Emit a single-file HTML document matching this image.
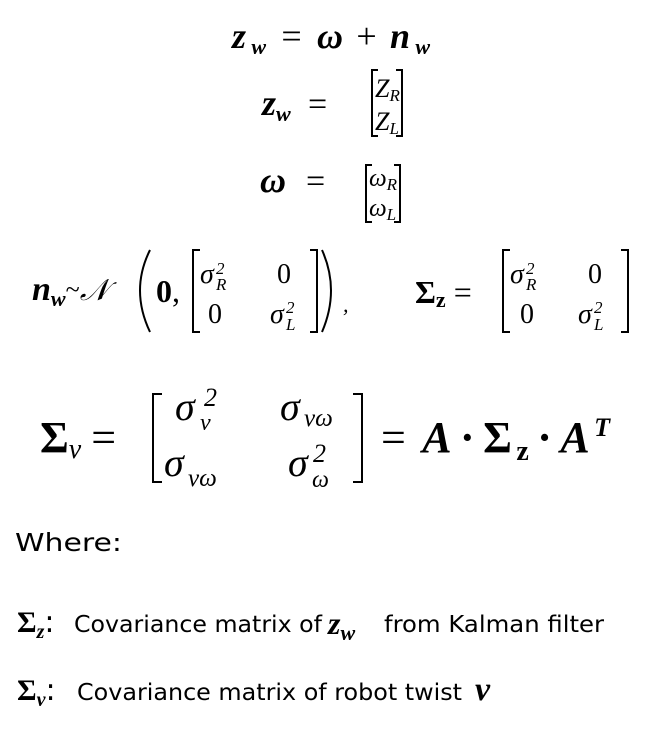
<!DOCTYPE html>
<html><head><meta charset="utf-8"><style>
html,body{margin:0;padding:0;background:#fff;width:660px;height:740px;overflow:hidden}
svg{display:block}
.m{font-family:"Liberation Serif",serif;font-style:italic;fill:#000}
.b{font-weight:bold}
.u{font-style:normal}
.s{font-family:"DejaVu Sans","Liberation Sans",sans-serif;fill:#000}
path{fill:none;stroke:#000;stroke-width:2}
</style></head><body>
<svg width="660" height="740" viewBox="0 0 660 740">
<!-- line 1 -->
<g>
<text class="m b" x="232" y="48" font-size="36" textLength="198" lengthAdjust="spacing">z<tspan font-size="22" dy="6">w</tspan><tspan class="u" font-weight="normal" dy="-6" dx="10">=</tspan><tspan dx="10">ω</tspan><tspan class="u" font-weight="normal" dx="8">+</tspan><tspan dx="8">n</tspan><tspan font-size="22" dy="6">w</tspan></text>
</g>
<!-- line 2 -->
<g>
<text class="m b" x="262" y="115" font-size="36">z<tspan font-size="22" dy="6">w</tspan></text>
<text class="m u" x="308" y="115" font-size="34">=</text>
<path d="M378 70 H372 V136 H378 M396 70 H402 V136 H396"/>
<text class="m" x="375" y="97" font-size="26">Z<tspan font-size="17" dy="4">R</tspan></text>
<text class="m" x="375" y="130" font-size="26">Z<tspan font-size="17" dy="4">L</tspan></text>
</g>
<!-- line 3 -->
<g>
<text class="m b" x="260" y="192" font-size="36">ω</text>
<text class="m u" x="306" y="192" font-size="34">=</text>
<path d="M372 165 H366 V222 H372 M394 165 H400 V222 H394"/>
<text class="m" x="369" y="186" font-size="25">ω<tspan font-size="17" dy="4">R</tspan></text>
<text class="m" x="369" y="216" font-size="25">ω<tspan font-size="17" dy="4">L</tspan></text>
</g>
<!-- line 4 -->
<g>
<text class="m b" x="32" y="300" font-size="34">n<tspan font-size="22" dy="6">w</tspan><tspan class="u" font-weight="normal" font-size="26" dy="-8">~</tspan><tspan font-weight="normal" font-size="30" dy="2">𝒩</tspan></text>
<path d="M150 250 Q130 290 150 332" stroke-width="2.5"/>
<text class="m b u" x="156" y="302" font-size="32">0<tspan font-weight="normal">,</tspan></text>
<path d="M200 250 H193 V332 H200 M310 250 H317 V332 H310"/>
<path d="M322 250 Q340 290 322 332" stroke-width="2.5"/>
<text class="m" x="343" y="312" font-size="22">,</text>
<text class="m" x="200" y="283" font-size="28">σ</text><text class="m" x="216" y="274" font-size="17">2</text><text class="m" x="216" y="290" font-size="17">R</text>
<text class="m u" x="277" y="283" font-size="28">0</text>
<text class="m u" x="208" y="323" font-size="28">0</text>
<text class="m" x="270" y="323" font-size="28">σ</text><text class="m" x="286" y="313" font-size="17">2</text><text class="m" x="286" y="330" font-size="17">L</text>
</g>
<g>
<text class="m b u" x="415" y="303" font-size="32">Σ<tspan font-size="22" dy="4">z</tspan><tspan font-weight="normal" dx="8" dy="-4">=</tspan></text>
<path d="M510 250 H503 V332 H510 M621 250 H628 V332 H621"/>
<text class="m" x="510" y="283" font-size="28">σ</text><text class="m" x="526" y="274" font-size="17">2</text><text class="m" x="526" y="290" font-size="17">R</text>
<text class="m u" x="588" y="283" font-size="28">0</text>
<text class="m u" x="520" y="323" font-size="28">0</text>
<text class="m" x="578" y="323" font-size="28">σ</text><text class="m" x="594" y="313" font-size="17">2</text><text class="m" x="594" y="330" font-size="17">L</text>
</g>
<!-- line 5 -->
<g>
<text class="m b u" x="40" y="452" font-size="44">Σ<tspan class="m" font-weight="normal" font-size="28" dy="6">v</tspan><tspan font-weight="normal" dx="10" dy="-6">=</tspan></text>
<path d="M162 394 H153 V482 H162 M353 394 H362 V482 H353" stroke-width="2.5"/>
<text class="m" x="175" y="420" font-size="40">σ</text><text class="m" x="204" y="406" font-size="26">2</text><text class="m" x="200" y="430" font-size="24">v</text>
<text class="m" x="280" y="420" font-size="40">σ</text><text class="m" x="304" y="426" font-size="25">vω</text>
<text class="m" x="164" y="476" font-size="40">σ</text><text class="m" x="188" y="486" font-size="25">vω</text>
<text class="m" x="288" y="476" font-size="40">σ</text><text class="m" x="313" y="462" font-size="26">2</text><text class="m" x="312" y="487" font-size="24">ω</text>
<text class="m b" x="381" y="452" font-size="44" textLength="229" lengthAdjust="spacing"><tspan class="u" font-weight="normal">=</tspan><tspan dx="12">A</tspan><tspan class="u" dx="4">·</tspan><tspan class="u" dx="4">Σ</tspan><tspan class="u" font-size="28" dy="8">z</tspan><tspan class="u" dx="4" dy="-8">·</tspan><tspan dx="4">A</tspan><tspan font-size="26" dy="-16">T</tspan></text>
</g>
<!-- text -->
<text class="s" x="15" y="551" font-size="25" textLength="107" lengthAdjust="spacingAndGlyphs">Where:</text>
<g>
<text class="m b u" x="17" y="632" font-size="30">Σ<tspan class="m" font-size="20" dy="6">z</tspan><tspan class="s" font-weight="normal" dy="-6">:</tspan></text>
<text class="s" x="74" y="632" font-size="23" textLength="248" lengthAdjust="spacingAndGlyphs">Covariance matrix of</text>
<text class="m b" x="328" y="634" font-size="32">z<tspan font-size="22" dy="6">w</tspan></text>
<text class="s" x="384" y="632" font-size="23" textLength="220" lengthAdjust="spacingAndGlyphs">from Kalman filter</text>
</g>
<g>
<text class="m b u" x="17" y="700" font-size="30">Σ<tspan class="m" font-size="20" dy="6">v</tspan><tspan class="s" font-weight="normal" dy="-6">:</tspan></text>
<text class="s" x="77" y="700" font-size="23" textLength="385" lengthAdjust="spacingAndGlyphs">Covariance matrix of robot twist</text>
<text class="m b" x="475" y="700" font-size="34">v</text>
</g>
</svg>
</body></html>
